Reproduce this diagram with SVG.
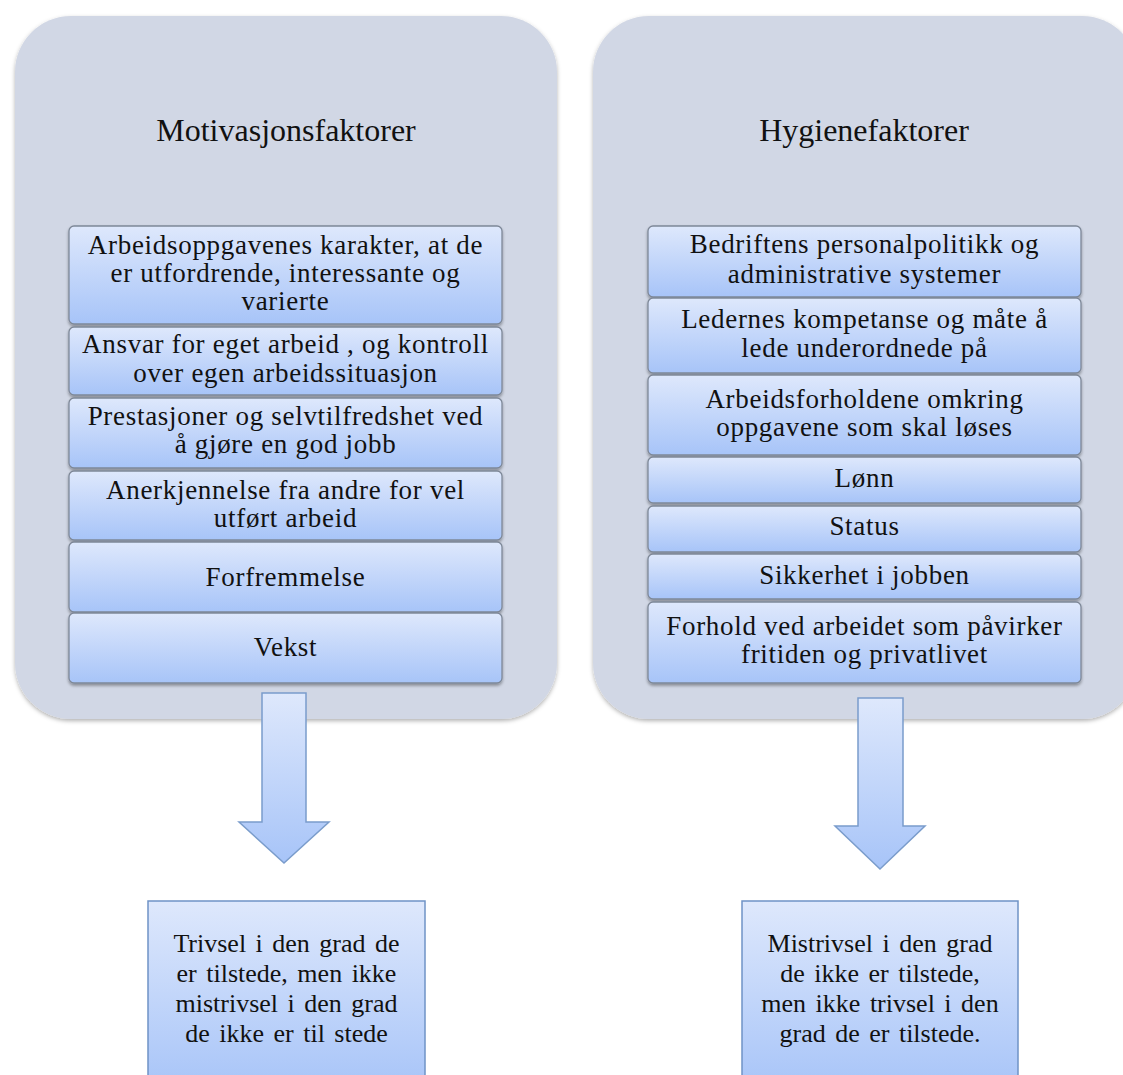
<svg xmlns="http://www.w3.org/2000/svg" width="1123" height="1075" viewBox="0 0 1123 1075">
<style>
.cont{fill:#D1D7E5;}
.item{fill:url(#gItem);stroke:#7E8898;stroke-width:1.3;}
.box{fill:url(#gItem);stroke:#6F93C6;stroke-width:1.5;}
.arrow{fill:url(#gArrow);stroke:#7A9CCB;stroke-width:1.5;}
text{font-family:"Liberation Serif","Times New Roman",serif;fill:#111;text-anchor:middle;}
.title{font-size:32px;}
.t{font-size:27px;letter-spacing:0.7px;}
.b{font-size:26px;word-spacing:3px;}
</style>
<defs>
<linearGradient id="gItem" x1="0" y1="0" x2="0" y2="1">
<stop offset="0" stop-color="#DEE8FC"/>
<stop offset="1" stop-color="#A7C4F8"/>
</linearGradient>
<linearGradient id="gArrow" x1="0" y1="0" x2="0" y2="1">
<stop offset="0" stop-color="#DEE8FC"/>
<stop offset="1" stop-color="#A7C4F8"/>
</linearGradient>
<filter id="sh" x="-5%" y="-5%" width="110%" height="115%">
<feDropShadow dx="0" dy="2" stdDeviation="1.5" flood-color="#000" flood-opacity="0.35"/>
</filter>
<filter id="shc" x="-5%" y="-5%" width="110%" height="110%">
<feDropShadow dx="0" dy="2" stdDeviation="2" flood-color="#000" flood-opacity="0.3"/>
</filter>
</defs>

<g id="container-motivasjon">
<rect class="cont" x="15" y="16" width="542" height="703" rx="56" filter="url(#shc)"/>
<text class="title" x="286" y="141">Motivasjonsfaktorer</text>
</g>
<g id="container-hygiene">
<rect class="cont" x="593" y="16" width="545" height="703" rx="56" filter="url(#shc)"/>
<text class="title" x="864" y="141">Hygienefaktorer</text>
</g>

<g id="m1"><rect class="item" x="69" y="226" width="433" height="98" rx="5" filter="url(#sh)"/>
<text class="t" x="285.5" y="254">Arbeidsoppgavenes karakter, at de</text>
<text class="t" x="285.5" y="282">er utfordrende, interessante og</text>
<text class="t" x="285.5" y="310">varierte</text></g>
<g id="m2"><rect class="item" x="69" y="327" width="433" height="68" rx="5" filter="url(#sh)"/>
<text class="t" x="285.5" y="353">Ansvar  for eget arbeid , og kontroll</text>
<text class="t" x="285.5" y="382">over egen arbeidssituasjon</text></g>
<g id="m3"><rect class="item" x="69" y="398" width="433" height="70" rx="5" filter="url(#sh)"/>
<text class="t" x="285.5" y="425">Prestasjoner og selvtilfredshet ved</text>
<text class="t" x="285.5" y="453">å gjøre en god jobb</text></g>
<g id="m4"><rect class="item" x="69" y="471" width="433" height="69" rx="5" filter="url(#sh)"/>
<text class="t" x="285.5" y="499">Anerkjennelse fra andre for vel</text>
<text class="t" x="285.5" y="527">utført arbeid</text></g>
<g id="m5"><rect class="item" x="69" y="542" width="433" height="70" rx="5" filter="url(#sh)"/>
<text class="t" x="285.5" y="586">Forfremmelse</text></g>
<g id="m6"><rect class="item" x="69" y="613" width="433" height="70" rx="5" filter="url(#sh)"/>
<text class="t" x="285.5" y="656">Vekst</text></g>

<g id="h1"><rect class="item" x="648" y="226" width="433" height="71" rx="5" filter="url(#sh)"/>
<text class="t" x="864.5" y="253">Bedriftens personalpolitikk og</text>
<text class="t" x="864.5" y="283">administrative systemer</text></g>
<g id="h2"><rect class="item" x="648" y="298" width="433" height="75" rx="5" filter="url(#sh)"/>
<text class="t" x="864.5" y="328">Ledernes kompetanse og måte å</text>
<text class="t" x="864.5" y="357">lede underordnede på</text></g>
<g id="h3"><rect class="item" x="648" y="375" width="433" height="80" rx="5" filter="url(#sh)"/>
<text class="t" x="864.5" y="408">Arbeidsforholdene omkring</text>
<text class="t" x="864.5" y="436">oppgavene som skal løses</text></g>
<g id="h4"><rect class="item" x="648" y="457" width="433" height="46" rx="5" filter="url(#sh)"/>
<text class="t" x="864.5" y="487">Lønn</text></g>
<g id="h5"><rect class="item" x="648" y="506" width="433" height="46" rx="5" filter="url(#sh)"/>
<text class="t" x="864.5" y="535">Status</text></g>
<g id="h6"><rect class="item" x="648" y="554" width="433" height="45" rx="5" filter="url(#sh)"/>
<text class="t" x="864.5" y="584">Sikkerhet i jobben</text></g>
<g id="h7"><rect class="item" x="648" y="602" width="433" height="81" rx="5" filter="url(#sh)"/>
<text class="t" x="864.5" y="635">Forhold ved arbeidet som påvirker</text>
<text class="t" x="864.5" y="663">fritiden og privatlivet</text></g>

<g id="connectors">
<path class="arrow" d="M262,693 H306 V822 H329 L284,863 L239,822 H262 Z"/>
<path class="arrow" d="M858,698 H903 V826 H925 L880,869 L835,826 H858 Z"/>
</g>

<g id="result-trivsel">
<rect class="box" x="148" y="901" width="277" height="190"/>
<text class="b" x="286.5" y="952">Trivsel  i den  grad de</text>
<text class="b" x="286.5" y="982">er tilstede,  men  ikke</text>
<text class="b" x="286.5" y="1012">mistrivsel  i den grad</text>
<text class="b" x="286.5" y="1042">de ikke  er til  stede</text>
</g>
<g id="result-mistrivsel">
<rect class="box" x="742" y="901" width="276" height="190"/>
<text class="b" x="880" y="952">Mistrivsel  i den  grad</text>
<text class="b" x="880" y="982">de ikke  er tilstede,</text>
<text class="b" x="880" y="1012">men  ikke trivsel  i den</text>
<text class="b" x="880" y="1042">grad  de  er tilstede.</text>
</g>
</svg>
